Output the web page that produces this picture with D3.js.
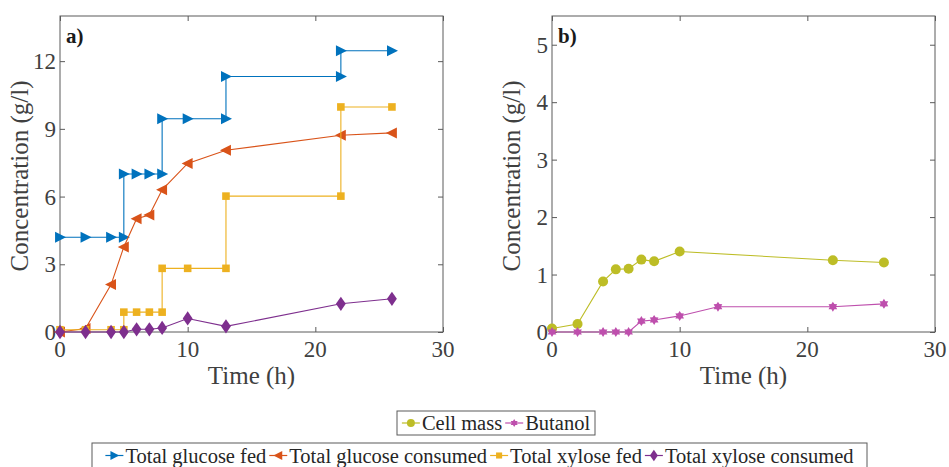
<!DOCTYPE html>
<html>
<head>
<meta charset="utf-8">
<script src="https://cdn.jsdelivr.net/npm/d3@7"></script>
<style>
  body { margin: 0; background: #fff; }
  svg text { font-family: "Liberation Serif", "Times New Roman", "DejaVu Serif", serif; }
  .axis-line { fill: none; stroke: #5a5a5a; stroke-width: 1; }
  .tick-label { fill: #404040; font-size: 23px; }
  .axis-title { fill: #404040; font-size: 25px; }
  .legend-text { fill: #262626; font-size: 20.5px; }
</style>
</head>
<body>
<svg width="949" height="467"></svg>
<script>
// time points (h)
var glucoseFedT   = [0, 2, 4, 5, 5, 6, 7, 8, 8, 10, 13, 13, 22, 22, 26];
var glucoseFed    = [4.2, 4.2, 4.2, 4.2, 7.0, 7.0, 7.0, 7.0, 9.45, 9.45, 9.45, 11.32, 11.32, 12.46, 12.46];
var glucoseConsT  = [0, 2, 4, 5, 6, 7, 8, 10, 13, 22, 26];
var glucoseCons   = [0, 0.15, 2.1, 3.77, 5.02, 5.18, 6.3, 7.47, 8.05, 8.72, 8.82];
var xyloseFedT    = [0, 2, 4, 5, 5, 6, 7, 8, 8, 10, 13, 13, 22, 22, 26];
var xyloseFed     = [0.1, 0.1, 0.1, 0.1, 0.88, 0.88, 0.88, 0.88, 2.82, 2.82, 2.82, 6.02, 6.02, 9.97, 9.97];
var xyloseConsT   = [0, 2, 4, 5, 6, 7, 8, 10, 13, 22, 26];
var xyloseCons    = [0, 0, 0, 0, 0.12, 0.12, 0.18, 0.6, 0.25, 1.25, 1.47];

var cellT    = [0, 2, 4, 5, 6, 7, 8, 10, 22, 26];
var cellMass = [0.06, 0.14, 0.88, 1.09, 1.1, 1.26, 1.23, 1.4, 1.25, 1.21];
var butT     = [0, 2, 4, 5, 6, 7, 8, 10, 13, 22, 26];
var butanol  = [0, 0, 0, 0, 0, 0.19, 0.21, 0.28, 0.44, 0.44, 0.49];

var xTicks = [0, 10, 20, 30];
var yTicksA = [0, 3, 6, 9, 12];
var yTicksB = [0, 1, 2, 3, 4, 5];

var svg = d3.select("svg");

// marker shapes
function markerPath(type, s) {
    var p = d3.path(), i, a, r;
    if (type === "tri-right") {
        p.moveTo(-s * 0.45, -s * 0.5); p.lineTo(s * 0.55, 0); p.lineTo(-s * 0.45, s * 0.5); p.closePath();
    } else if (type === "tri-left") {
        p.moveTo(s * 0.45, -s * 0.5); p.lineTo(-s * 0.55, 0); p.lineTo(s * 0.45, s * 0.5); p.closePath();
    } else if (type === "square") {
        p.rect(-s * 0.38, -s * 0.38, s * 0.76, s * 0.76);
    } else if (type === "diamond") {
        p.moveTo(0, -s * 0.55); p.lineTo(s * 0.38, 0); p.lineTo(0, s * 0.55); p.lineTo(-s * 0.38, 0); p.closePath();
    } else if (type === "circle") {
        p.arc(0, 0, s * 0.5, 0, 2 * Math.PI);
    } else if (type === "hexagram") {
        for (i = 0; i < 12; i++) {
            a = -Math.PI / 2 + i * Math.PI / 6;
            r = i % 2 === 0 ? s * 0.5 : s * 0.3;
            if (i === 0) p.moveTo(r * Math.cos(a), r * Math.sin(a)); else p.lineTo(r * Math.cos(a), r * Math.sin(a));
        }
        p.closePath();
    }
    return p.toString();
}

function drawPanel(opt) {
    var x = d3.scaleLinear().domain([0, 30]).range([opt.left, opt.right]);
    var y = d3.scaleLinear().domain([0, opt.ymax]).range([opt.bottom, opt.top]);
    var g = svg.append("g");

    // box
    g.append("rect").attr("class", "axis-line")
        .attr("x", opt.left).attr("y", opt.top)
        .attr("width", opt.right - opt.left).attr("height", opt.bottom - opt.top);

    // ticks inside, mirrored on all four sides
    function noLabels(s) { s.select(".domain").remove(); s.selectAll("line").attr("stroke", "#5a5a5a"); }
    g.append("g").attr("transform", "translate(0," + opt.bottom + ")")
        .call(d3.axisTop(x).tickValues(xTicks).tickSize(5).tickFormat("")).call(noLabels);
    g.append("g").attr("transform", "translate(0," + opt.top + ")")
        .call(d3.axisBottom(x).tickValues(xTicks).tickSize(5).tickFormat("")).call(noLabels);
    g.append("g").attr("transform", "translate(" + opt.left + ",0)")
        .call(d3.axisRight(y).tickValues(opt.yTicks).tickSize(5).tickFormat("")).call(noLabels);
    g.append("g").attr("transform", "translate(" + opt.right + ",0)")
        .call(d3.axisLeft(y).tickValues(opt.yTicks).tickSize(5).tickFormat("")).call(noLabels);

    // tick labels
    g.selectAll(".xl").data(xTicks).enter().append("text")
        .attr("class", "tick-label").attr("text-anchor", "middle")
        .attr("x", function(d) { return x(d); }).attr("y", opt.bottom + 25)
        .text(function(d) { return d; });
    g.selectAll(".yl").data(opt.yTicks).enter().append("text")
        .attr("class", "tick-label").attr("text-anchor", "end")
        .attr("x", opt.left - 4).attr("y", function(d) { return y(d) + 8; })
        .text(function(d) { return d; });

    // titles
    g.append("text").attr("class", "axis-title").attr("text-anchor", "middle")
        .attr("x", (opt.left + opt.right) / 2).attr("y", opt.bottom + 52).text("Time (h)");
    g.append("text").attr("class", "axis-title").attr("text-anchor", "middle")
        .attr("transform", "translate(" + (opt.left - 32) + "," + ((opt.top + opt.bottom) / 2 + 2) + ") rotate(-90)")
        .text("Concentration (g/l)");
    g.append("text").attr("x", opt.left + 6).attr("y", opt.top + 27)
        .attr("font-size", "21px").attr("font-weight", "bold").attr("fill", "#1a1a1a")
        .text(opt.label);

    var line = d3.line().x(function(d) { return x(d[0]); }).y(function(d) { return y(d[1]); });
    opt.series.forEach(function(s) {
        var pts = s.t.map(function(t, i) { return [t, s.v[i]]; });
        g.append("path").attr("d", line(pts))
            .attr("fill", "none").attr("stroke", s.color).attr("stroke-width", 1.1);
        g.selectAll(null).data(pts).enter().append("path")
            .attr("d", markerPath(s.marker, s.size))
            .attr("transform", function(d) { return "translate(" + x(d[0]) + "," + y(d[1]) + ")"; })
            .attr("fill", s.color);
    });
}

var seriesA = [
    {name: "Total glucose fed", t: glucoseFedT, v: glucoseFed, color: "#0072BD", marker: "tri-right", size: 11},
    {name: "Total glucose consumed", t: glucoseConsT, v: glucoseCons, color: "#D95319", marker: "tri-left", size: 11},
    {name: "Total xylose fed", t: xyloseFedT, v: xyloseFed, color: "#EDB120", marker: "square", size: 10},
    {name: "Total xylose consumed", t: xyloseConsT, v: xyloseCons, color: "#7E2F8E", marker: "diamond", size: 13}
];
var seriesB = [
    {name: "Cell mass", t: cellT, v: cellMass, color: "#BDBD26", marker: "circle", size: 10},
    {name: "Butanol", t: butT, v: butanol, color: "#BE4FAD", marker: "hexagram", size: 10}
];

drawPanel({left: 60, right: 443, top: 16, bottom: 332, ymax: 14, yTicks: yTicksA, label: "a)", series: seriesA});
drawPanel({left: 552, right: 935, top: 16, bottom: 332, ymax: 5.5, yTicks: yTicksB, label: "b)", series: seriesB});

// legends: entries packed left to right, then centred in the box
function drawLegend(series, x0, x1, top, h) {
    var g = svg.append("g");
    g.append("rect").attr("x", x0).attr("y", top).attr("width", x1 - x0).attr("height", h)
        .attr("fill", "#fff").attr("stroke", "#5a5a5a").attr("stroke-width", 1);
    var items = g.selectAll(".it").data(series).enter().append("g");
    items.append("text").attr("class", "legend-text").attr("x", 20).attr("y", top + h / 2 + 7)
        .text(function(d) { return d.name; });
    var widths = [];
    items.each(function() { widths.push(d3.select(this).select("text").node().getComputedTextLength() + 20); });
    var gap = 3, total = d3.sum(widths) + gap * (series.length - 1);
    var cx = (x0 + x1) / 2 - total / 2;
    items.attr("transform", function(d, i) {
        var tx = cx; cx += widths[i] + gap;
        return "translate(" + tx + ",0)";
    });
    items.append("line").attr("x1", 0).attr("x2", 18).attr("y1", top + h / 2).attr("y2", top + h / 2)
        .attr("stroke", function(d) { return d.color; }).attr("stroke-width", 1.2);
    items.append("path").attr("d", function(d) { return markerPath(d.marker, d.size * 0.8); })
        .attr("transform", "translate(9," + (top + h / 2) + ")")
        .attr("fill", function(d) { return d.color; });
}
drawLegend(seriesB, 397, 595, 411, 24);
drawLegend(seriesA, 92, 867, 443, 25);
</script>
</body>
</html>
